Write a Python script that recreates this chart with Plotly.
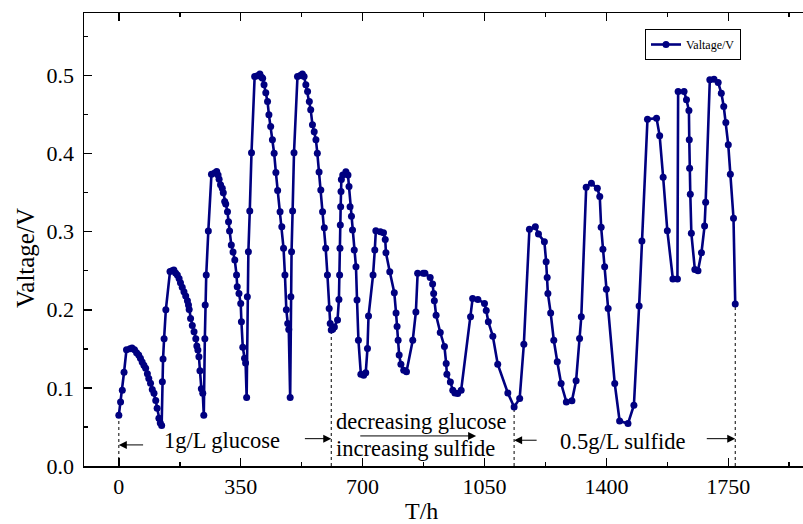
import plotly.graph_objects as go

# ---------------- data ----------------
time_h = [
    0, 5, 10, 15, 22, 32, 38, 45, 51, 57, 62, 67, 72, 77, 82, 86, 91, 96, 101, 106, 110, 115, 119, 123,
    125, 127, 130, 135, 147,
    153, 158, 163, 168, 173, 177, 182, 187, 192, 197, 200, 202, 206, 211, 216, 221, 224, 227, 230, 233, 237, 241, 244,
    247, 248, 251, 257, 266, 275, 281, 285,
    288, 292, 297, 300, 304, 307, 312, 315, 318, 323, 328, 333, 338, 340, 345, 350, 352, 356, 361, 364, 367,
    369, 372, 376, 381, 390, 398, 405, 410,
    413, 417, 422, 427, 431, 436, 441, 446, 451, 456, 463, 468, 473, 477, 481, 485, 488, 492,
    494, 496, 499, 503, 513, 521, 527, 532,
    537, 542, 547, 551, 556, 561, 566, 570, 575, 580, 585, 590, 594, 599, 604, 607, 610,
    614, 619, 628, 632, 634, 635, 636, 637, 638, 639, 643, 652, 658, 661, 664, 668, 671, 676, 681, 684, 688, 695, 703, 709,
    714, 717, 730, 735, 738, 751, 760, 765, 767, 778, 791, 796, 799, 802, 805, 810, 818, 826,
    844, 853, 858, 874, 879, 894, 901, 904, 906, 911, 923, 935, 940, 942, 952, 959, 965, 973, 983,
    1010, 1016, 1031, 1050, 1055, 1061, 1074, 1088, 1117, 1135,
    1151, 1163, 1179, 1196, 1205, 1222, 1227, 1230, 1232, 1240, 1249, 1259, 1270, 1285, 1301,
    1313, 1323, 1328, 1342, 1357, 1374, 1381, 1385, 1390, 1395, 1400, 1405, 1424, 1438, 1462,
    1479, 1494, 1502, 1518, 1544, 1553, 1563, 1575, 1591, 1604,
    1606, 1623, 1630, 1637, 1638, 1639, 1641, 1644, 1654, 1663,
    1673, 1682, 1685, 1697, 1709, 1721, 1730, 1737, 1743, 1750, 1756, 1765, 1770,
]
voltage_v = [
    0.065, 0.082, 0.097, 0.120, 0.149, 0.150, 0.151, 0.149, 0.145, 0.142, 0.138, 0.133, 0.129, 0.125, 0.118, 0.112,
    0.106, 0.098, 0.093, 0.084, 0.074, 0.061, 0.055, 0.052,
    0.108, 0.137, 0.163, 0.200, 0.249,
    0.250, 0.251, 0.247, 0.2445, 0.240, 0.2346, 0.229, 0.223, 0.2176, 0.2115, 0.206, 0.2005, 0.189, 0.180, 0.172,
    0.163, 0.1535, 0.1485, 0.140, 0.122, 0.099, 0.093, 0.065,
    0.163, 0.206, 0.2445, 0.301, 0.3735, 0.375, 0.377, 0.3727,
    0.367, 0.360, 0.3556, 0.350, 0.3385, 0.3355, 0.3256, 0.3128, 0.301, 0.283, 0.274, 0.2637, 0.2445, 0.2295,
    0.221, 0.208, 0.1846, 0.152, 0.138, 0.132, 0.0877,
    0.2167, 0.2744, 0.3265, 0.401, 0.4987, 0.4996, 0.502, 0.4977,
    0.4966, 0.488, 0.478, 0.4667, 0.4496, 0.4346, 0.4176, 0.4005, 0.3757, 0.3526, 0.3256, 0.3064, 0.2787,
    0.2445, 0.200, 0.1826, 0.1749, 0.0877,
    0.2167, 0.2744, 0.3265, 0.401, 0.4987, 0.500, 0.502, 0.4987,
    0.488, 0.4795, 0.4667, 0.456, 0.4368, 0.428, 0.4176, 0.4005, 0.3765, 0.3535, 0.3256, 0.305, 0.2787, 0.2445,
    0.2018, 0.1826, 0.174,
    0.175, 0.178, 0.187, 0.2133, 0.2445, 0.2787, 0.3086, 0.332, 0.3513, 0.3667, 0.3726, 0.3769, 0.3726, 0.3577,
    0.332, 0.3197, 0.3021, 0.2765, 0.255, 0.2124, 0.161, 0.1176, 0.1163, 0.1193,
    0.1505, 0.192, 0.2445, 0.2765, 0.3013, 0.300, 0.2987, 0.290, 0.273, 0.2487, 0.2218, 0.196, 0.1785, 0.1611,
    0.142, 0.1303, 0.1227, 0.1206,
    0.161, 0.1973, 0.2467, 0.2467, 0.2467, 0.2415, 0.233, 0.2209, 0.2115, 0.1931, 0.1709, 0.153, 0.1311, 0.1175,
    0.1077, 0.097, 0.0936, 0.0927, 0.097,
    0.1911, 0.2146, 0.2133, 0.2082, 0.199, 0.1846, 0.1662, 0.1303, 0.0936, 0.0756,
    0.0863, 0.1559, 0.303, 0.3064, 0.297, 0.287, 0.2616, 0.2415, 0.221, 0.196, 0.161, 0.1334, 0.1056, 0.0821, 0.0834,
    0.109, 0.1633, 0.1911, 0.3569, 0.362, 0.3556, 0.345, 0.3056, 0.2774, 0.2552, 0.2262, 0.2018, 0.1056, 0.0577,
    0.0543,
    0.0778, 0.2048, 0.2881, 0.4441, 0.4454, 0.4227, 0.3697, 0.3013, 0.2393, 0.2393,
    0.4795, 0.4795, 0.4688, 0.4551, 0.4176, 0.3812, 0.3479, 0.2979, 0.2517, 0.250,
    0.2731, 0.3073, 0.3376, 0.4945, 0.4953, 0.491, 0.4774, 0.4603, 0.4398, 0.4112, 0.3736, 0.3172, 0.2073,
]
series_name = "Valtage/V"
phase_bounds_h = [0, 610, 1135, 1770]
x_tick_vals = [0, 350, 700, 1050, 1400, 1750]
x_tick_text = ["0", "350", "700", "1050", "1400", "1750"]
y_tick_vals = [0.0, 0.1, 0.2, 0.3, 0.4, 0.5]
y_tick_text = ["0.0", "0.1", "0.2", "0.3", "0.4", "0.5"]
x_title = "T/h"
y_title = "Valtage/V"

# ---------------- figure ----------------
NAVY = "#000080"
FONT = "Liberation Serif"

# the reference plot frame runs past the right edge of the picture,
# so the figure is a little wider than the 803 px window
layout_w, layout_h = 823, 524
ml, mr, mt, mb = 84, 0, 13, 58
pw, ph = layout_w - ml - mr, layout_h - mt - mb


def px_to_paper_x(px):
    return (px - ml) / pw


def px_to_paper_y(py):
    return (layout_h - mb - py) / ph


fig = go.Figure()
fig.add_trace(go.Scatter(
    x=time_h, y=voltage_v, mode="lines+markers", name=series_name,
    line=dict(color=NAVY, width=2.6),
    marker=dict(color=NAVY, size=7),
))

# dashed phase boundaries from axis up to the data point
for b in phase_bounds_h:
    v = voltage_v[time_h.index(b)]
    fig.add_shape(type="line", xref="x", yref="y", x0=b, x1=b, y0=0, y1=v,
                  line=dict(color="black", width=1, dash="dot"), layer="below")


def arrow(x_tail, x_head, y):
    fig.add_annotation(x=x_head, y=y, ax=x_tail, ay=y, xref="x", yref="y", axref="x", ayref="y",
                       text="", showarrow=True, arrowhead=2, arrowsize=1.6, arrowwidth=1,
                       arrowcolor="black")


arrow(74, phase_bounds_h[0], 0.027)
arrow(530, phase_bounds_h[1], 0.035)
arrow(689, 1026, 0.0385)
arrow(1204, phase_bounds_h[2], 0.033)
arrow(1684, phase_bounds_h[3], 0.035)

txt = dict(xref="x", yref="y", showarrow=False, xanchor="center", yanchor="middle",
           font=dict(family=FONT, size=22.5, color="black"))
fig.add_annotation(x=297, y=0.033, text="1g/L glucose", **txt)
fig.add_annotation(x=868, y=0.0565, text="decreasing glucose", **txt)
fig.add_annotation(x=852, y=0.0223, text="increasing sulfide", **txt)
fig.add_annotation(x=1447, y=0.0308, text="0.5g/L sulfide", **txt)

# axis titles
fig.add_annotation(x=px_to_paper_x(421), y=px_to_paper_y(511), xref="paper", yref="paper",
                   text=x_title, showarrow=False, xanchor="center", yanchor="middle",
                   font=dict(family=FONT, size=24, color="black"))
fig.add_annotation(x=px_to_paper_x(25), y=px_to_paper_y(258), xref="paper", yref="paper",
                   text=y_title, showarrow=False, textangle=-90, xanchor="center", yanchor="middle",
                   font=dict(family=FONT, size=25, color="black"))

axis_common = dict(
    showline=True, linecolor="black", linewidth=1.5,
    ticks="inside", ticklen=8, tickwidth=1.5, tickcolor="black",
    showgrid=False, zeroline=False, automargin=False,
    tickfont=dict(family=FONT, size=22, color="black"),
)

fig.update_layout(
    width=layout_w, height=layout_h,
    margin=dict(l=ml, r=mr, t=mt, b=mb, autoexpand=False),
    paper_bgcolor="white", plot_bgcolor="white",
    font=dict(family=FONT, color="black"),
    showlegend=True, hovermode=False,
    legend=dict(x=px_to_paper_x(645), y=px_to_paper_y(29), xanchor="left", yanchor="top",
                bordercolor="black", borderwidth=1, bgcolor="white",
                font=dict(family=FONT, size=12, color="black"), itemwidth=30,
                tracegroupgap=0),
    xaxis=dict(range=[-100, 2022], tickvals=x_tick_vals, ticktext=x_tick_text,
               mirror="allticks", ticklabelstandoff=0,
               minor=dict(ticks="inside", ticklen=4, tickwidth=1.5, tickcolor="black", dtick=175, tick0=0),
               **axis_common),
    yaxis=dict(range=[0, 0.58], tickvals=y_tick_vals, ticktext=y_tick_text,
               mirror=False, ticklabelstandoff=4,
               minor=dict(ticks="inside", ticklen=4, tickwidth=1.5, tickcolor="black", dtick=0.05, tick0=0),
               **axis_common),
)

fig.write_html("out.html",
               config={"displayModeBar": False, "staticPlot": True},
               post_script="document.body.style.margin='0';document.body.style.padding='0';"
                           "document.body.style.overflow='hidden';"
                           "document.documentElement.style.overflow='hidden';")
